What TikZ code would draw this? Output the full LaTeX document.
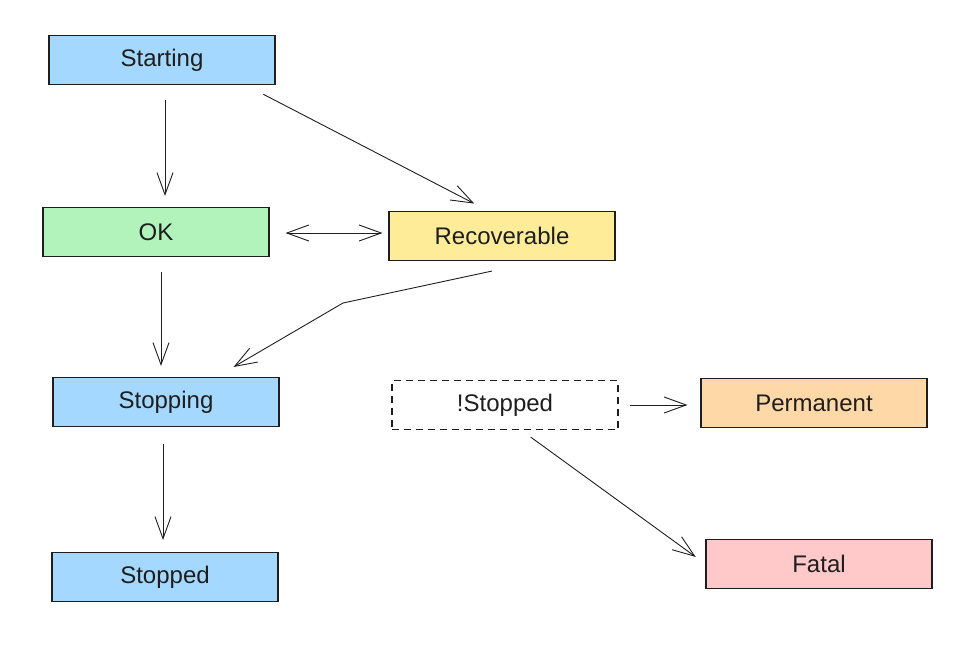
\documentclass[tikz,border=0pt]{standalone}
\usepackage{fontspec}
\setmainfont{Liberation Sans}
\usetikzlibrary{arrows.meta}

\definecolor{ink}{HTML}{1E1E1E}
\definecolor{stblue}{HTML}{A5D8FF}
\definecolor{stgreen}{HTML}{B2F2BB}
\definecolor{styellow}{HTML}{FFEC99}
\definecolor{storange}{HTML}{FFD8A8}
\definecolor{stred}{HTML}{FFC9C9}

\begin{document}
\begin{tikzpicture}[
      x=1pt, y=-1pt,
      barb/.tip = {Straight Barb[length=22pt, width=16pt, line width=0.9pt]},
      every node/.style = {draw=ink, line width=1.1pt, minimum width=226pt, minimum height=49pt,
                           inner sep=0pt, font=\fontsize{24}{28}\selectfont, text=ink},
      flow/.style = {draw=ink, line width=0.9pt, -barb, shorten <=15pt, shorten >=11pt},
      twoway/.style = {flow, barb-barb},
      blockstate/.style = {fill=stblue},
      okstate/.style    = {fill=stgreen},
      recstate/.style   = {fill=styellow},
      permstate/.style  = {fill=storange},
      fatalstate/.style = {fill=stred},
      notstate/.style   = {dash pattern=on 7pt off 5pt, fill=none}
    ]
    \useasboundingbox (0,0) rectangle (970,662);

    \node (starting)    [blockstate] at (162,60)  {Starting};
    \node (ok)          [okstate]    at (156,232) {OK};
    \node (recoverable) [recstate]   at (502,236) {Recoverable};
    \node (stopping)    [blockstate] at (166,402) {Stopping};
    \node (stopped)     [blockstate] at (165,577) {Stopped};
    \node (notstopped)  [notstate]   at (505,405) {!Stopped};
    \node (permanent)   [permstate]  at (814,403) {Permanent};
    \node (fatal)       [fatalstate] at (819,564) {Fatal};

    \coordinate (recbend) at (343,303);

    \draw [flow] ([xshift=3pt]starting.south) to ([xshift=3pt]starting.south |- ok.north);
    \draw [flow, shorten <=20pt, shorten >=16pt] ([xshift=-30pt]starting.south east) to ([xshift=100pt]recoverable.north west);
    \draw [twoway, shorten <=16pt, shorten >=6pt] ([yshift=-1pt]ok.east) to ([yshift=-1pt]ok.east -| recoverable.west);
    \draw [flow] ([xshift=5pt]ok.south) to ([xshift=-5pt]stopping.north);
    \draw [flow, shorten <=0pt, shorten >=0pt] ([shift={(-10pt,-10pt)}]recoverable.south) -- (recbend) -- ([shift={(-46pt,10pt)}]stopping.north east);
    \draw [flow, shorten <=17pt, shorten >=12pt] ([xshift=-3pt]stopping.south) to ([xshift=-3pt]stopping.south |- stopped.north);
    \draw [flow, shorten <=11pt, shorten >=13pt] (notstopped.east) to (notstopped.east -| permanent.west);
    \draw [flow, shorten <=12pt, shorten >=12pt] ([xshift=16pt]notstopped.south) to (fatal.west);

  \end{tikzpicture}
\end{document}
